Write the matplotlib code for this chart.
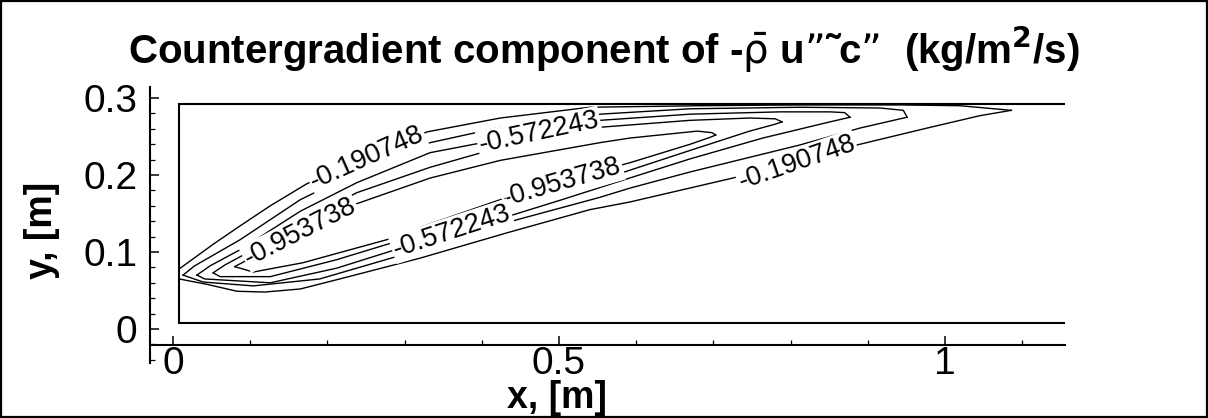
import matplotlib
matplotlib.use('Agg')
import matplotlib.pyplot as plt
from matplotlib.patches import Rectangle
import numpy as np

plt.rcParams.update({
    'font.family': ['Liberation Sans', 'DejaVu Sans'],
    'mathtext.fontset': 'dejavusans',
})

# contour levels (only some of them are labelled in the picture)
levels = [-0.190748, -0.381495, -0.572243, -0.762990, -0.953738]

# contour traces, x and y in metres
# each level: upper branch (left tip -> right tip), lower branch (left tip -> right tip)
c1_up_x = [0.008, 0.052, 0.087, 0.126, 0.174, 0.251, 0.329, 0.424, 0.540, 0.683, 0.812, 0.942, 1.019, 1.086]
c1_up_y = [0.078, 0.110, 0.134, 0.160, 0.189, 0.223, 0.256, 0.274, 0.288, 0.290, 0.291, 0.291, 0.290, 0.284]
c1_lo_x = [0.008, 0.044, 0.083, 0.119, 0.165, 0.216, 0.320, 0.433, 0.540, 0.592, 0.725, 0.808, 0.886, 0.977, 1.045, 1.086]
c1_lo_y = [0.065, 0.058, 0.049, 0.048, 0.052, 0.065, 0.092, 0.125, 0.155, 0.165, 0.196, 0.218, 0.239, 0.261, 0.277, 0.284]

c2_up_x = [0.013, 0.028, 0.087, 0.165, 0.238, 0.333, 0.424, 0.553, 0.670, 0.812, 0.916, 0.946, 0.951]
c2_up_y = [0.070, 0.082, 0.116, 0.168, 0.204, 0.242, 0.262, 0.279, 0.286, 0.288, 0.287, 0.284, 0.275]
c2_lo_x = [0.013, 0.039, 0.104, 0.190, 0.320, 0.446, 0.553, 0.592, 0.670, 0.812, 0.890, 0.942, 0.951]
c2_lo_y = [0.070, 0.061, 0.056, 0.065, 0.103, 0.142, 0.171, 0.183, 0.204, 0.239, 0.261, 0.273, 0.275]

c3_up_x = [0.031, 0.048, 0.087, 0.165, 0.238, 0.333, 0.474, 0.553, 0.670, 0.786, 0.851, 0.870, 0.877]
c3_up_y = [0.070, 0.082, 0.103, 0.153, 0.190, 0.229, 0.256, 0.271, 0.279, 0.282, 0.282, 0.281, 0.275]
c3_lo_x = [0.031, 0.041, 0.126, 0.212, 0.320, 0.361, 0.430, 0.504, 0.585, 0.670, 0.764, 0.851, 0.877]
c3_lo_y = [0.070, 0.065, 0.060, 0.079, 0.113, 0.125, 0.145, 0.168, 0.194, 0.221, 0.248, 0.269, 0.275]

c4_up_x = [0.052, 0.067, 0.113, 0.165, 0.238, 0.333, 0.424, 0.553, 0.670, 0.747, 0.780, 0.789]
c4_up_y = [0.073, 0.083, 0.108, 0.139, 0.177, 0.210, 0.236, 0.262, 0.271, 0.274, 0.273, 0.269]
c4_lo_x = [0.052, 0.061, 0.126, 0.212, 0.320, 0.424, 0.504, 0.585, 0.670, 0.747, 0.780, 0.789]
c4_lo_y = [0.073, 0.068, 0.068, 0.090, 0.123, 0.157, 0.181, 0.204, 0.232, 0.257, 0.266, 0.269]

c5_up_x = [0.080, 0.093, 0.165, 0.236, 0.333, 0.424, 0.553, 0.592, 0.679, 0.698, 0.703]
c5_up_y = [0.081, 0.088, 0.126, 0.162, 0.196, 0.219, 0.242, 0.248, 0.257, 0.255, 0.252]
c5_lo_x = [0.080, 0.104, 0.168, 0.277, 0.320, 0.424, 0.504, 0.592, 0.670, 0.696, 0.703]
c5_lo_y = [0.081, 0.074, 0.086, 0.116, 0.132, 0.168, 0.192, 0.216, 0.240, 0.249, 0.252]

# contour labels
label_text = ['-0.190748', '-0.572243', '-0.953738', '-0.953738', '-0.572243', '-0.190748']
label_x = [0.251, 0.474, 0.165, 0.504, 0.361, 0.808]
label_y = [0.223, 0.255, 0.126, 0.190, 0.127, 0.216]
label_rot = [24, 12, 27, 16, 18, 19]

# computational domain
dom_x0, dom_x1 = 0.008, 1.155
dom_y0, dom_y1 = 0.008, 0.292

x_ticks = [0, 0.5, 1]
x_ticklabels = ['0', '0.5', '1']
y_ticks = [0, 0.1, 0.2, 0.3]
y_ticklabels = ['0', '0.1', '0.2', '0.3']

fig = plt.figure(figsize=(12.08, 4.18), dpi=100)
ax = fig.add_axes([150 / 1208, 55 / 418, 915 / 1208, 276 / 418])
ax.set_xlim(-0.02979, 1.15544)
ax.set_ylim(-0.04416, 0.31429)
ax.patch.set_visible(False)

traces = [
    (c1_up_x, c1_up_y, c1_lo_x, c1_lo_y),
    (c2_up_x, c2_up_y, c2_lo_x, c2_lo_y),
    (c3_up_x, c3_up_y, c3_lo_x, c3_lo_y),
    (c4_up_x, c4_up_y, c4_lo_x, c4_lo_y),
    (c5_up_x, c5_up_y, c5_lo_x, c5_lo_y),
]
for ux, uy, lx, ly in traces:
    ax.plot(ux, uy, color='black', lw=1.0, zorder=2, solid_joinstyle='round')
    ax.plot(lx, ly, color='black', lw=1.0, zorder=2, solid_joinstyle='round')

for t, lx, ly, r in zip(label_text, label_x, label_y, label_rot):
    ax.text(lx, ly, t, fontsize=19.5, rotation=r, rotation_mode='anchor',
            ha='center', va='center', zorder=4,
            bbox=dict(facecolor='white', edgecolor='none', pad=1.0))

# domain outline (open on the outflow side)
ax.plot([dom_x1, dom_x0, dom_x0, dom_x1], [dom_y1, dom_y1, dom_y0, dom_y0],
        color='black', lw=1.5, zorder=3, solid_joinstyle='miter')

# Tecplot-like axes
for s in ['top', 'right']:
    ax.spines[s].set_visible(False)
ax.spines['bottom'].set_position(('data', -0.0208))
ax.spines['left'].set_linewidth(1.5)
ax.spines['bottom'].set_linewidth(1.5)

ax.set_xticks(x_ticks)
ax.set_xticklabels(x_ticklabels)
ax.set_xticks(np.arange(0, 1.15, 0.1), minor=True)
ax.set_yticks(y_ticks)
ax.set_yticklabels(y_ticklabels)
ax.set_yticks(np.arange(-0.04, 0.31, 0.02), minor=True)
ax.tick_params(which='major', direction='in', length=6.5, width=1.1, labelsize=28)
ax.tick_params(which='minor', direction='in', length=3.5, width=0.9)
ax.tick_params(axis='y', which='major', pad=9)
ax.tick_params(axis='x', which='major', pad=1)

fig.text(604 / 1208, 1 - 50 / 418,
         'Countergradient component of -$\\bar{\\mathrm{\u03c1}}$ u\u201d\u02dcc\u201d  (kg/m$^\\mathbf{2}$/s)',
         ha='center', va='center', fontsize=29, fontweight='bold')
fig.text(42 / 1208, 1 - 230 / 418, 'y, [m]', rotation=90, ha='center', va='center',
         fontsize=27, fontweight='bold')
fig.text(557 / 1208, 1 - 398 / 418, 'x, [m]', ha='center', va='center',
         fontsize=27, fontweight='bold')

fig.patches.append(Rectangle((0.001, 0.002), 0.998, 0.996, transform=fig.transFigure,
                             fill=False, edgecolor='black', lw=1.6))

fig.savefig('out.png', dpi=100)
